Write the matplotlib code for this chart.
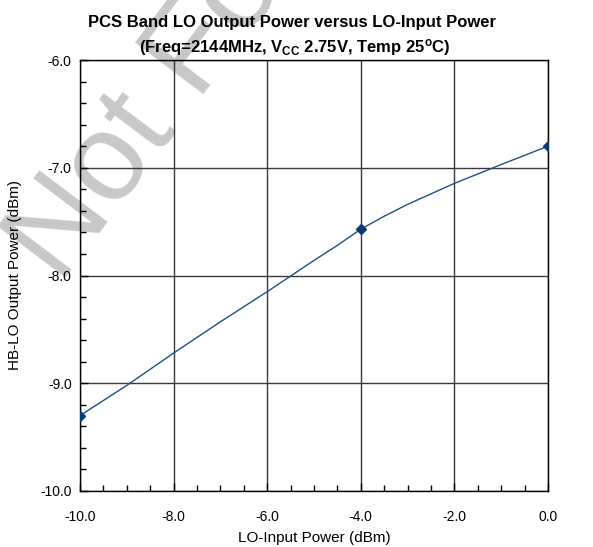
import matplotlib
matplotlib.use('Agg')
import matplotlib.pyplot as plt
from matplotlib.ticker import MultipleLocator, FormatStrFormatter

# measured points (markers)
lo_in = [-10.0, -4.0, 0.0]
lo_out = [-9.30, -7.57, -6.80]

# smoothed curve
curve_x = [-10.0, -9.0, -8.0, -7.0, -6.0, -5.0, -4.5, -4.0, -3.5, -3.0, -2.0, -1.0, 0.0]
curve_y = [-9.30, -9.02, -8.72, -8.43, -8.15, -7.86, -7.72, -7.57, -7.45, -7.34, -7.145, -6.97, -6.80]

plt.rcParams['font.family'] = ['Liberation Sans', 'DejaVu Sans']
plt.rcParams['mathtext.fontset'] = 'custom'
plt.rcParams['mathtext.rm'] = 'Liberation Sans:bold'
plt.rcParams['mathtext.default'] = 'rm'

fig = plt.figure(figsize=(5.93, 5.47), dpi=100)
ax = fig.add_axes([80 / 593, 1 - 491 / 547, 468 / 593, 431 / 547])

# faint watermark in the background
fig.text(-0.02, 0.45, 'Not For New Designs', fontsize=90, color='#c8c8c8',
         rotation=53, ha='left', va='bottom', zorder=0)
ax.set_zorder(1)
ax.patch.set_alpha(0)

ax.plot(curve_x, curve_y, color='#1f4f82', lw=1.0, zorder=3)
ax.plot(lo_in, lo_out, ls='none', marker='D', ms=5, color='#0b3a6e', zorder=4)

ax.set_xlim(-10, 0)
ax.set_ylim(-10, -6)
ax.xaxis.set_major_locator(MultipleLocator(2))
ax.xaxis.set_minor_locator(MultipleLocator(0.5))
ax.yaxis.set_major_locator(MultipleLocator(1))
ax.yaxis.set_minor_locator(MultipleLocator(0.2))
ax.xaxis.set_major_formatter(FormatStrFormatter('%.1f'))
ax.yaxis.set_major_formatter(FormatStrFormatter('%.1f'))
ax.tick_params(which='both', direction='in', labelsize=10, colors='black')
ax.tick_params(which='major', length=6, width=1, pad=6)
ax.tick_params(axis='x', which='major', pad=14)
ax.tick_params(which='minor', length=4, width=1)
ax.grid(which='major', color='#3a3a3a', lw=1.0)
for s in ax.spines.values():
    s.set_color('black')
    s.set_linewidth(1.0)

ax.set_xlabel('LO-Input Power (dBm)', fontsize=11, labelpad=5)
ax.set_ylabel('HB-LO Output Power (dBm)', fontsize=11, labelpad=13)

fig.text(292 / 593, 1 - 22 / 547, 'PCS Band LO Output Power versus LO-Input Power',
         fontsize=12, fontweight='bold', ha='center', va='center')
fig.text(295 / 593, 1 - 47 / 547, r'(Freq=2144MHz, V$_{CC}$ 2.75V, Temp 25$^{o}$C)',
         fontsize=12, fontweight='bold', ha='center', va='center')

fig.savefig('out.png', dpi=100)
